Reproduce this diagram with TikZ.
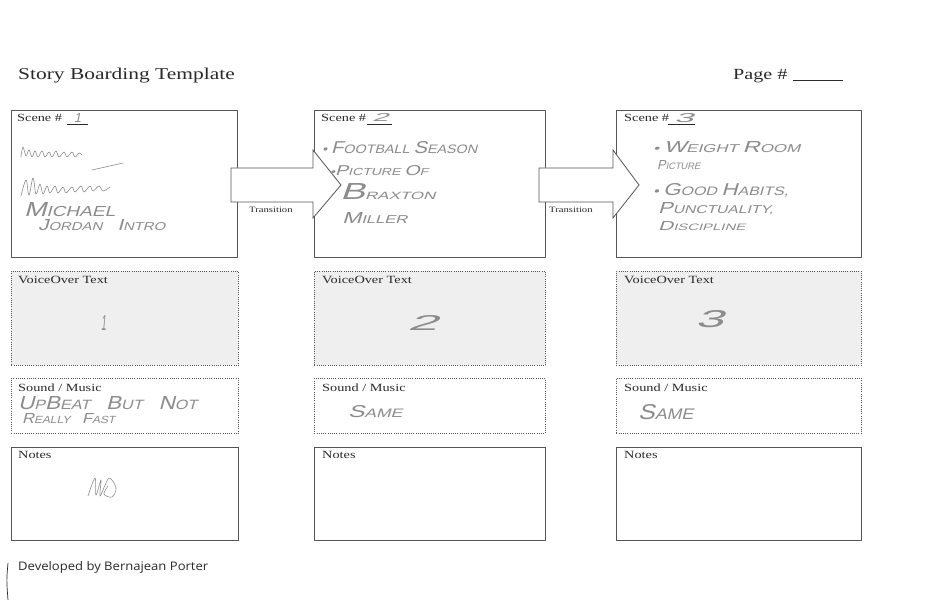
\documentclass[tikz,border=0pt]{standalone}
\usepackage{fontspec}
\usepackage{graphicx}
\setmainfont{Liberation Serif}[FakeStretch=1.3]
\newfontfamily\handfont{Liberation Sans}[FakeSlant=0.22]
\newfontfamily\devfont{Open Sans}
\newcommand\hw[3]{\resizebox{#1pt}{#2pt}{\handfont\fontsize{10}{10}\selectfont #3}}
\newcommand\Bg[1]{{\fontsize{14}{14}\selectfont #1}}
\definecolor{linegray}{HTML}{555555}
\definecolor{inkgray}{HTML}{2A2A2A}
\definecolor{pencil}{HTML}{8C8C8C}
\definecolor{voicefill}{HTML}{EFEFEF}
\tikzset{
  scenebox/.style={draw=linegray, line width=0.8pt, fill=white, anchor=north west, inner sep=0pt},
  dotbox/.style={draw=linegray, line width=0.8pt, dash pattern=on 1pt off 1.2pt, anchor=north west, inner sep=0pt},
  lbl/.style={anchor=base west, inner sep=0pt, text=inkgray, font=\fontsize{11}{13}\selectfont},
  hand/.style={anchor=base west, inner sep=0pt, text=pencil},
  scrib/.style={draw=pencil, line width=0.6pt, line cap=round, line join=round},
  arrowshape/.style={draw=linegray, line width=0.8pt, fill=white, line join=miter}
}
\begin{document}
\begin{tikzpicture}[x=1pt,y=-1pt]
\useasboundingbox (0,0) rectangle (927,615);
\fill[white] (0,0) rectangle (927,615);

% title
\node[lbl, font=\fontsize{16.5}{18}\selectfont] (title) at (18,80) {Story Boarding Template};
\node[lbl, font=\fontsize{15.5}{18}\selectfont] (page) at (733,80) {Page \#};
\coordinate (pu1) at (793,80.5);
\coordinate (pu2) at (843,80.5);
\draw[inkgray, line width=0.6pt] (pu1) -- (pu2);

% scene boxes
\node[scenebox, minimum width=226pt, minimum height=147pt] (s1) at (11,110) {};
\node[scenebox, minimum width=231pt, minimum height=147pt] (s2) at (314,110) {};
\node[scenebox, minimum width=245pt, minimum height=147pt] (s3) at (616,110) {};

% transition arrows
\draw[arrowshape] (231,168) -- (313,168) -- (313,150) -- (341,185) -- (313,218) -- (313,202) -- (231,202) -- cycle;
\draw[arrowshape] (539,168) -- (613,168) -- (613,150) -- (639,185) -- (613,218) -- (613,202) -- (539,202) -- cycle;
\node[lbl, font=\fontsize{8.2}{10}\selectfont] (t1) at (249,212) {Transition};
\node[lbl, font=\fontsize{8.2}{10}\selectfont] (t2) at (549,212) {Transition};

% voiceover boxes
\node[dotbox, fill=voicefill, minimum width=227pt, minimum height=94pt] (v1) at (11,271) {};
\node[dotbox, fill=voicefill, minimum width=231pt, minimum height=94pt] (v2) at (314,271) {};
\node[dotbox, fill=voicefill, minimum width=245pt, minimum height=94pt] (v3) at (616,271) {};

% sound boxes
\node[dotbox, fill=white, minimum width=227pt, minimum height=55pt] (m1) at (11,378) {};
\node[dotbox, fill=white, minimum width=231pt, minimum height=55pt] (m2) at (314,378) {};
\node[dotbox, fill=white, minimum width=245pt, minimum height=55pt] (m3) at (616,378) {};

% notes boxes
\node[scenebox, minimum width=227pt, minimum height=93pt] (n1) at (11,447) {};
\node[scenebox, minimum width=231pt, minimum height=93pt] (n2) at (314,447) {};
\node[scenebox, minimum width=245pt, minimum height=93pt] (n3) at (616,447) {};

% printed labels
\node[lbl] (sl1) at (17,121.5) {Scene \#};
\node[lbl] (sl2) at (321,121.5) {Scene \#};
\node[lbl] (sl3) at (624,121.5) {Scene \#};
\draw[inkgray, line width=0.5pt] (67,124.5) -- (88,124.5);
\draw[inkgray, line width=0.5pt] (367,124.5) -- (392,124.5);
\draw[inkgray, line width=0.5pt] (668,124.5) -- (695,124.5);
\node[lbl] (vl1) at (18,283) {VoiceOver Text};
\node[lbl] (vl2) at (322,283) {VoiceOver Text};
\node[lbl] (vl3) at (624,283) {VoiceOver Text};
\node[lbl] (ml1) at (18,391) {Sound / Music};
\node[lbl] (ml2) at (322,391) {Sound / Music};
\node[lbl] (ml3) at (624,391) {Sound / Music};
\node[lbl] (nl1) at (18,458) {Notes};
\node[lbl] (nl2) at (322,458) {Notes};
\node[lbl] (nl3) at (624,458) {Notes};

% handwritten scene numbers
\node[hand] (hn1) at (74,123) {\hw{7}{9}{1}};
\node[hand] (hn2) at (372,122) {\hw{16}{8}{2}};
\node[hand] (hn3) at (674,123) {\hw{19}{9}{3}};

% scene 1 handwriting
\draw[scrib] plot[smooth, tension=0.6] coordinates {(21,157) (23,147) (26,156) (29,150) (32,157) (35,151) (38,157) (42,151) (45,157) (49,152) (52,157) (56,151) (59,157) (64,152) (67,157) (72,152) (75,157) (79,153) (82,155)};
\draw[scrib] (92,170) -- (123,163);
\draw[scrib] plot[smooth, tension=0.6] coordinates {(21,196) (26,180) (29,195) (33,178) (36,194) (40,184) (43,194) (47,186) (50,193) (55,186) (58,193) (63,187) (66,193) (72,187) (75,192) (81,186) (84,192) (90,186) (93,191) (99,186) (103,191) (110,187)};
\node[hand] (h11) at (24,216) {\hw{91}{14}{\Bg{M}ICHAEL}};
\node[hand] (h12) at (38,230) {\hw{127}{11}{\Bg{J}ORDAN\quad \Bg{I}NTRO}};

% scene 2 handwriting
\node[hand] (h21) at (322,154) {\hw{155}{12}{\textbullet\ \Bg{F}OOTBALL \Bg{S}EASON}};
\node[hand] (h22) at (330,176) {\hw{98}{10}{\textbullet\Bg{P}ICTURE \Bg{O}F}};
\node[hand] (h23) at (340,200) {\hw{95}{16}{{\fontsize{22}{22}\selectfont B}RAXTON}};
\node[hand] (h24) at (342,223) {\hw{65}{11}{\Bg{M}ILLER}};

% scene 3 handwriting
\node[hand] (h31) at (653,153) {\hw{147}{11}{\textbullet\ \Bg{W}EIGHT \Bg{R}OOM}};
\node[hand] (h32) at (657,170) {\hw{43}{9}{\Bg{P}ICTURE}};
\node[hand] (h33) at (653,196) {\hw{135}{12}{\textbullet\ \Bg{G}OOD \Bg{H}ABITS,}};
\node[hand] (h34) at (658,214) {\hw{115}{11}{\Bg{P}UNCTUALITY,}};
\node[hand] (h35) at (658,230) {\hw{87}{9}{\Bg{D}ISCIPLINE}};

% voiceover handwriting
\node[hand] (hv1) at (101,330) {\hw{5}{15}{1}};
\node[hand] (hv2) at (407,330) {\hw{30}{15}{2}};
\node[hand] (hv3) at (695,327) {\hw{28}{17}{3}};

% sound handwriting
\node[hand] (hm1) at (18,409) {\hw{179}{13}{\Bg{U}P\Bg{B}EAT\quad \Bg{B}UT\quad \Bg{N}OT}};
\node[hand] (hm2) at (22,423) {\hw{93}{10}{\Bg{R}EALLY\quad \Bg{F}AST}};
\node[hand] (hm3) at (348,417) {\hw{54}{12}{\Bg{S}AME}};
\node[hand] (hm4) at (638,419) {\hw{55}{15}{\Bg{S}AME}};

% notes scribble
\draw[scrib] plot[smooth, tension=0.6] coordinates {(88,496) (95,478) (96,495) (101,480) (100,496) (106,483) (110,478) (116,488) (112,497) (104,494) (108,486)};

% footer
\node[anchor=base west, inner sep=0pt, text=inkgray] (dev) at (18,570) {\resizebox{190pt}{9pt}{\devfont Developed by Bernajean Porter}};
\coordinate (vl_a) at (8,563);
\coordinate (vl_b) at (8,600);
\draw[inkgray, line width=0.7pt] (vl_a) .. controls (6.5,580) .. (vl_b);
\end{tikzpicture}
\end{document}
